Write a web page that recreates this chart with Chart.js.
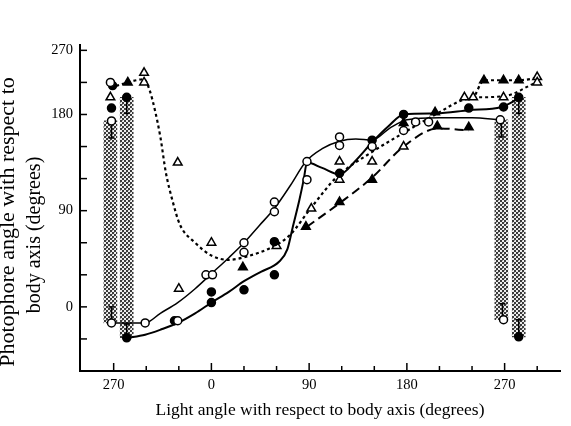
<!DOCTYPE html>
<html>
<head>
<meta charset="utf-8">
<script src="https://cdn.jsdelivr.net/npm/chart.js@4.4.0/dist/chart.umd.min.js"></script>
<style>
  body { margin: 0; background: #fff; }
</style>
</head>
<body>
<canvas id="myChart" width="571" height="426"></canvas>
<script>
// axis ticks
const xTicks = [-90, -60, -30, 0, 30, 60, 90, 120, 150, 180, 210, 240, 270, 300];
const xTickLabels = ['270', '', '', '0', '', '', '90', '', '', '180', '', '', '270', ''];
const yTicks = [-30, 0, 30, 60, 90, 120, 150, 180, 210, 240];
const yTickLabels = ['', '0', '', '', '90', '', '', '180', '', '270'];
const yTitle = ['Photophore angle with respect to', 'body axis (degrees)'];

// markers: [light angle, photophore angle]
const openCircles = [[-93, 210], [-92, 174], [-92, -15], [-61, -15], [-31, -13], [-5, 30], [1, 30],
  [30, 60], [30, 51], [58, 98], [58, 89], [88, 136], [88, 119], [118, 159], [118, 151], [148, 150],
  [177, 165], [188, 173], [200, 173], [266, 175], [269, -12]];
const filledCircles = [[-91, 207], [-92, 186], [-78, 196], [-78, -29], [-34, -13], [0, 14], [0, 4],
  [30, 16], [58, 30], [58, 61], [118, 125], [148, 156], [177, 180], [237, 186], [269, 187],
  [283, 196], [283, -28]];
const openTriangles = [[-93, 196], [-62, 219], [-62, 210], [-31, 135], [-30, 17], [0, 60], [60, 57],
  [92, 92], [118, 136], [118, 119], [148, 136], [177, 150], [233, 196], [241, 196], [269, 196],
  [300, 215], [300, 210]];
const filledTriangles = [[-77, 210], [29, 37], [87, 75], [118, 98], [148, 119], [177, 172],
  [206, 182], [208, 169], [237, 168], [251, 212], [269, 212], [283, 212]];

// hand drawn curves through the points
const openCurve = [[-92, -15], [-61, -15], [-47, -6], [-31, 4], [-15, 17], [0, 31], [16, 46], [30, 60],
  [44, 76], [58, 92], [73, 114], [87, 136], [102, 148], [118, 155], [133, 157], [148, 156],
  [164, 167], [180, 175], [210, 177], [240, 177], [266, 175]];
const filledCurve = [[-78, -29], [-61, -26], [-46, -21], [-31, -15], [-15, -6], [0, 4], [16, 14],
  [30, 24], [46, 33], [62, 42], [70, 54], [75, 75], [81, 100], [85, 119], [88, 135], [102, 130],
  [118, 124], [133, 137], [148, 154], [163, 169], [177, 180], [207, 181], [237, 184], [267, 187],
  [283, 195]];
const dottedCurve = [[-93, 205], [-77, 210], [-62, 213], [-57, 203], [-52, 184], [-47, 159],
  [-42, 126], [-36, 100], [-29, 77], [-15, 60], [0, 48], [16, 44], [32, 47], [56, 56], [72, 67],
  [92, 93], [116, 122], [148, 145], [174, 161], [208, 181], [233, 194], [241, 196], [251, 212],
  [269, 212], [283, 212], [299, 214]];
const dottedTail = [[241, 196], [269, 197], [299, 210]];
const dashedCurve = [[88, 75], [118, 97], [148, 121], [177, 150], [209, 167], [237, 165]];

// shaded ranges: [x, low, high]
const ranges = [[-93, -15, 174], [-78, -29, 196], [267, -12, 175], [283, -28, 196]];
// small arrows at the ends of the ranges: [x, from, to]
const whiskers = [[-92, -15, 0], [-92, 174, 158], [-78, 196, 181], [-78, -29, -16],
  [267, 175, 159], [268, -12, 3], [283, 196, 181], [283, -28, -12]];

function pts(arr) {
  return arr.map(p => ({ x: p[0], y: p[1] }));
}

// grey halftone for the range bars: 2px dots with a couple of white specks
function makeStipple() {
  let tile = document.createElement('canvas');
  tile.width = 8;
  tile.height = 8;
  let c = tile.getContext('2d');
  c.fillStyle = '#ededed';
  c.fillRect(0, 0, 8, 8);
  c.fillStyle = '#3a3a3a';
  for (let i = 0; i < 8; i += 2) {
    for (let j = 0; j < 8; j += 2) {
      if ((i + j) % 4 === 0) c.fillRect(i, j, 2, 2);
    }
  }
  c.fillStyle = '#9a9a9a';
  c.fillRect(2, 0, 1, 1);
  c.fillRect(6, 4, 1, 1);
  c.fillRect(0, 6, 1, 1);
  return c.createPattern(tile, 'repeat');
}

let whiskerPts = [];
whiskers.forEach(w => {
  whiskerPts.push({ x: w[0], y: w[1] }, { x: w[0], y: w[2], tip: true }, { x: w[0], y: null });
});

const serif = 'Liberation Serif';

// ticks pointing into the plot, and the two line y title
const axisExtras = {
  id: 'axisExtras',
  afterDraw(chart) {
    const { ctx, chartArea, scales } = chart;
    ctx.save();
    ctx.strokeStyle = '#000';
    ctx.lineWidth = 1.5;
    xTicks.forEach((v, i) => {
      let px = scales.x.getPixelForValue(v);
      let len = xTickLabels[i] ? 8 : 5;
      ctx.beginPath();
      ctx.moveTo(px, chartArea.bottom);
      ctx.lineTo(px, chartArea.bottom - len);
      ctx.stroke();
    });
    yTicks.forEach(v => {
      let py = scales.y.getPixelForValue(v);
      ctx.beginPath();
      ctx.moveTo(chartArea.left, py);
      ctx.lineTo(chartArea.left + 7, py);
      ctx.stroke();
    });

    ctx.fillStyle = '#000';
    ctx.textAlign = 'center';
    ctx.textBaseline = 'middle';
    ctx.translate(8, 222);
    ctx.rotate(-Math.PI / 2);
    ctx.font = '22px "' + serif + '"';
    ctx.fillText(yTitle[0], 0, 0);
    ctx.font = '20px "' + serif + '"';
    ctx.fillText(yTitle[1], -13, 27);
    ctx.restore();
  }
};

function markerSet(data, style, filled, radius) {
  return {
    type: 'scatter',
    data: pts(data),
    pointStyle: style,
    pointRadius: radius,
    backgroundColor: filled ? '#000' : '#fff',
    borderColor: '#000',
    borderWidth: 1.5,
    order: 0
  };
}

function curveSet(data, dash, width) {
  return {
    type: 'line',
    data: pts(data),
    borderColor: '#000',
    borderWidth: width,
    borderDash: dash,
    pointRadius: 0,
    fill: false,
    cubicInterpolationMode: 'monotone',
    order: 1
  };
}

var ctx = document.getElementById('myChart').getContext('2d');
var myChart = new Chart(ctx, {
  type: 'scatter',
  data: {
    datasets: [
      markerSet(openCircles, 'circle', false, 4),
      markerSet(filledCircles, 'circle', true, 4),
      markerSet(openTriangles, 'triangle', false, 5),
      markerSet(filledTriangles, 'triangle', true, 5),
      curveSet(openCurve, [], 1.5),
      curveSet(filledCurve, [], 2),
      curveSet(dottedCurve, [3, 3], 2.2),
      curveSet(dottedTail, [3, 3], 2),
      curveSet(dashedCurve, [9, 5], 2),
      {
        type: 'line',
        data: whiskerPts,
        borderColor: '#000',
        borderWidth: 1.5,
        spanGaps: false,
        tension: 0,
        pointStyle: 'line',
        pointRadius: c => (c.raw && c.raw.tip ? 3 : 0),
        pointBorderColor: '#000',
        pointBorderWidth: 1.5,
        order: 1
      },
      {
        type: 'bar',
        data: ranges.map(r => ({ x: r[0], y: [r[1], r[2]] })),
        backgroundColor: makeStipple(),
        barThickness: 13,
        grouped: false,
        order: 2
      }
    ]
  },
  options: {
    responsive: false,
    animation: false,
    layout: { padding: { top: 45, right: 11, left: 0, bottom: 0 } },
    plugins: {
      legend: { display: false },
      tooltip: { enabled: false }
    },
    scales: {
      x: {
        type: 'linear',
        min: -121,
        max: 321,
        offset: false,
        afterFit: s => { s.height = 55; },
        afterBuildTicks: s => { s.ticks = xTicks.map(v => ({ value: v })); },
        border: { color: '#000', width: 2 },
        grid: { display: false, drawTicks: false, offset: false },
        ticks: {
          autoSkip: false,
          maxRotation: 0,
          padding: 5,
          color: '#000',
          font: { family: serif, size: 14.5 },
          callback: (v, i) => xTickLabels[i]
        },
        title: {
          display: true,
          text: 'Light angle with respect to body axis (degrees)',
          color: '#000',
          font: { family: serif, size: 17.5 },
          padding: { top: 0, bottom: 5 }
        }
      },
      y: {
        type: 'linear',
        min: -60,
        max: 245,
        beginAtZero: false,
        afterFit: s => { s.width = 80; },
        afterBuildTicks: s => { s.ticks = yTicks.map(v => ({ value: v })); },
        border: { color: '#000', width: 2 },
        grid: { display: false, drawTicks: false },
        ticks: {
          autoSkip: false,
          padding: 7,
          color: '#000',
          font: { family: serif, size: 14.5 },
          callback: (v, i) => yTickLabels[i]
        }
      }
    }
  },
  plugins: [axisExtras]
});
</script>
</body>
</html>
